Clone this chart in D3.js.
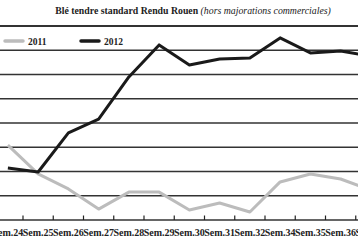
<html>
<head>
<meta charset="utf-8">
<title>Blé tendre Rouen</title>
<style>
  body { margin: 0; background: #fff; }
  text { font-family: "Liberation Serif", "DejaVu Serif", serif; }
</style>
<script src="https://cdn.jsdelivr.net/npm/d3@7"></script>
</head>
<body>
<svg width="358" height="247"></svg>
<script>
// semaines (Sem.37 only partly visible at the right edge)
var weeks = ["Sem.24","Sem.25","Sem.26","Sem.27","Sem.28","Sem.29","Sem.30",
             "Sem.31","Sem.32","Sem.34","Sem.35","Sem.36","Sem.37"];
// prix estimés (€/t)
var prix2011 = [200.9,189.0,182.8,174.5,181.5,181.5,174.1,177.0,173.3,185.7,189.0,186.9,182.4];
var prix2012 = [191.4,189.8,205.9,211.6,229.0,242.2,233.9,236.4,236.8,245.1,238.9,239.7,237.6];
var gridValues = [170,180,190,200,210,220,230,240,250];
var seriesNames = ["2011","2012"];

var svg = d3.select("svg");
var bw = 30.25;

var x = d3.scaleBand()
    .domain(weeks)
    .range([-7.25, -7.25 + bw*weeks.length]);
var y = d3.scaleLinear()
    .domain([170,250])
    .range([220,26]);

// title
var title = svg.append("text")
    .attr("x", 193).attr("y", 14)
    .attr("text-anchor","middle")
    .style("font-size","9.8px")
    .attr("fill","#222");
title.append("tspan").attr("font-weight","bold").text("Blé tendre standard Rendu Rouen ");
title.append("tspan").attr("font-style","italic").text("(hors majorations commerciales)");

// grid
svg.append("g").selectAll("line")
    .data(gridValues)
    .enter().append("line")
    .attr("x1",0).attr("x2",358)
    .attr("y1",d=>y(d)).attr("y2",d=>y(d))
    .attr("stroke","#333")
    .attr("stroke-width",d=>d==250?2:1.4);

// x axis
var xAxis = svg.append("g")
    .attr("transform","translate(0,220)")
    .call(d3.axisBottom(x).tickSize(0).tickPadding(9));
xAxis.select(".domain").remove();
xAxis.selectAll("text")
    .style("font-family","Liberation Serif")
    .style("font-size","10px")
    .style("font-weight","bold")
    .attr("fill","#222");
xAxis.selectAll(".bnd")
    .data(weeks)
    .enter().append("line")
    .attr("x1",d=>x(d)+bw).attr("x2",d=>x(d)+bw)
    .attr("y1",-4.5).attr("y2",0)
    .attr("stroke","#222").attr("stroke-width",1.2);

// lines
var line = d3.line()
    .x((d,i)=>x(weeks[i])+x.bandwidth()/2)
    .y(d=>y(d));

svg.append("path").datum(prix2011)
    .attr("d",line)
    .attr("fill","none")
    .attr("stroke","#bcbcbc")
    .attr("stroke-width",3)
    .attr("stroke-linejoin","round");
svg.append("path").datum(prix2012)
    .attr("d",line)
    .attr("fill","none")
    .attr("stroke","#1a1a1a")
    .attr("stroke-width",3)
    .attr("stroke-linejoin","round");

// legend
var legendColors = ["#bcbcbc","#1a1a1a"];
var lg = svg.append("g").selectAll("g")
    .data(seriesNames)
    .enter().append("g")
    .attr("transform",(d,i)=>`translate(${5+i*76},41)`);
lg.append("line")
    .attr("x1",0).attr("x2",18)
    .attr("stroke",(d,i)=>legendColors[i])
    .attr("stroke-width",3.5)
    .attr("stroke-linecap","round");
lg.append("text")
    .attr("x",23).attr("y",3.5)
    .style("font-size","9.5px")
    .attr("font-weight","bold")
    .attr("fill","#222")
    .text(d=>d);
</script>
</body>
</html>
